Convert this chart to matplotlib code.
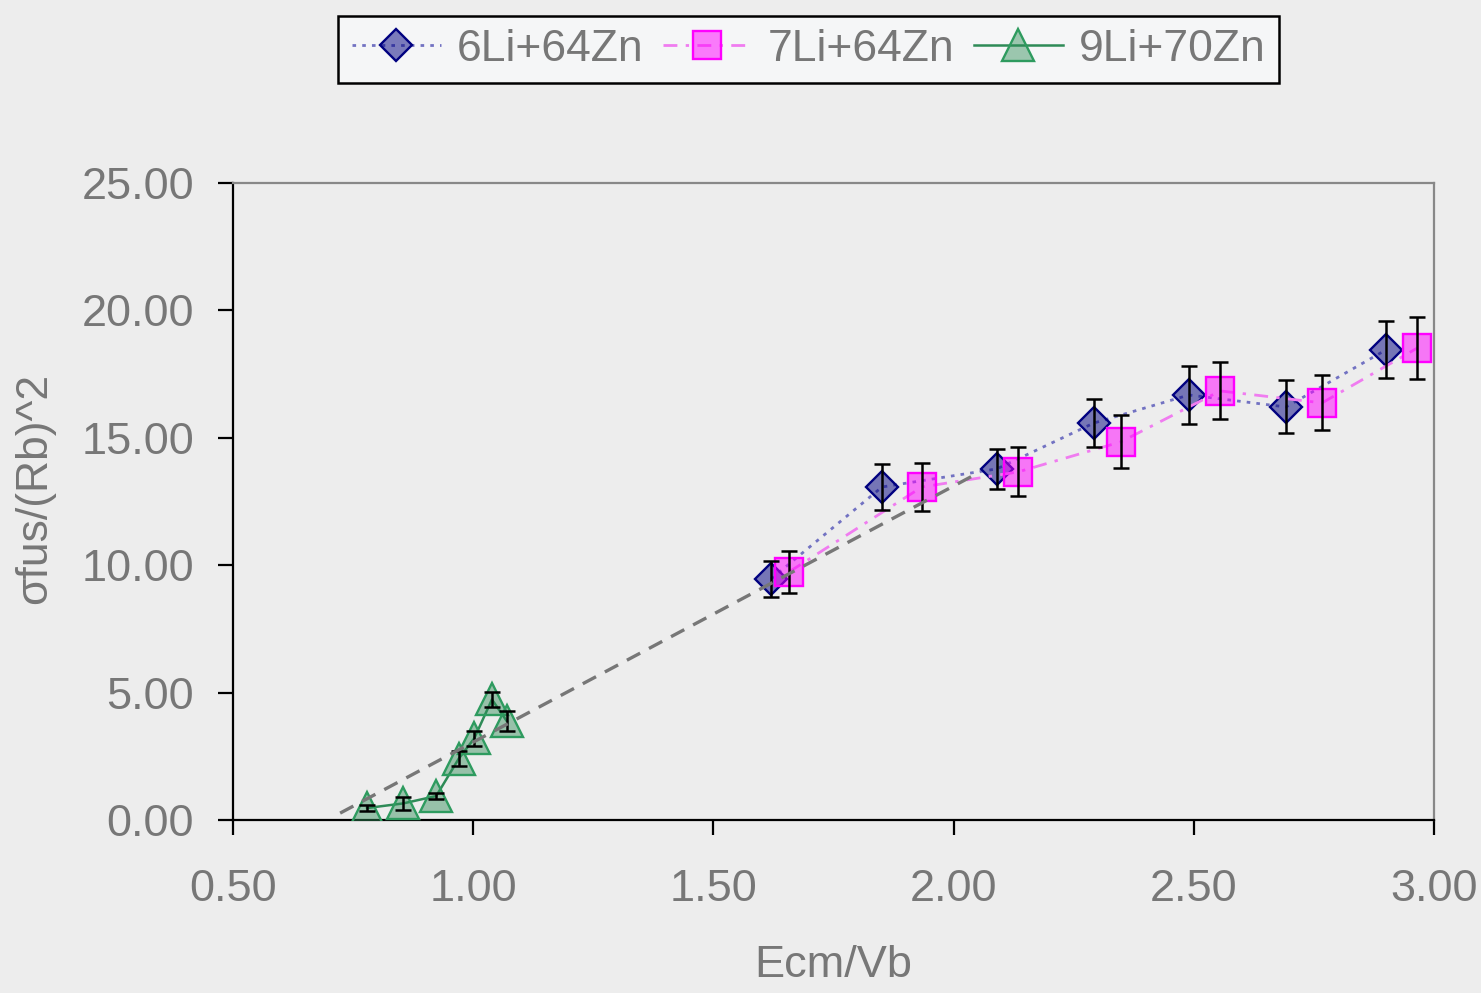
import matplotlib
matplotlib.use("Agg")
import matplotlib.pyplot as plt
from matplotlib.ticker import FormatStrFormatter

plt.rcParams['font.family'] = ['Liberation Sans', 'DejaVu Sans']

# --- data ---
li6_x = [1.62, 1.851, 2.09, 2.292, 2.49, 2.692, 2.90]
li6_y = [9.46, 13.07, 13.78, 15.58, 16.68, 16.21, 18.45]
li6_err = [0.70, 0.92, 0.80, 0.95, 1.12, 1.04, 1.12]

li7_x = [1.657, 1.934, 2.134, 2.348, 2.555, 2.767, 2.965]
li7_y = [9.73, 13.07, 13.66, 14.84, 16.84, 16.37, 18.52]
li7_err = [0.82, 0.96, 0.96, 1.04, 1.12, 1.08, 1.22]

li9_x = [0.779, 0.854, 0.923, 0.970, 1.002, 1.039, 1.070]
li9_y = [0.47, 0.65, 0.94, 2.41, 3.20, 4.73, 3.88]
li9_err = [0.10, 0.25, 0.12, 0.30, 0.30, 0.30, 0.38]

trend_x = [0.723, 2.055]
trend_y = [0.27, 13.66]

labels = ['6Li+64Zn', '7Li+64Zn', '9Li+70Zn']
xticks = [0.5, 1.0, 1.5, 2.0, 2.5, 3.0]
yticks = [0, 5, 10, 15, 20, 25]

bg = '#ededed'
txt = '#777777'

fig = plt.figure(figsize=(14.81, 9.93), dpi=100, facecolor=bg)
ax = fig.add_axes([233/1481, 1-820/993, (1434-233)/1481, (820-183)/993])
ax.set_facecolor(bg)

l1, = ax.plot(li6_x, li6_y, linestyle=(0, (1.3, 2.2)), color='#7272c2', lw=2,
              marker='D', markersize=16, markerfacecolor=(0, 0, 0.5, 0.5),
              markeredgecolor='#000080', markeredgewidth=1.7, zorder=3)
l2, = ax.plot(li7_x, li7_y, linestyle=(0, (5, 3, 1.2, 3)), color='#f07cf0', lw=2,
              marker='s', markersize=20.5, markerfacecolor=(1, 0, 1, 0.5),
              markeredgecolor='#ff00ff', markeredgewidth=1.7, zorder=3)
l3, = ax.plot(li9_x, li9_y, linestyle='-', color='#2e8b57', lw=1.8,
              marker='^', markersize=23, markerfacecolor=(0.18, 0.55, 0.34, 0.45),
              markeredgecolor='#2e9b5f', markeredgewidth=1.7, zorder=3)

for xs, ys, es in [(li6_x, li6_y, li6_err), (li7_x, li7_y, li7_err), (li9_x, li9_y, li9_err)]:
    ax.errorbar(xs, ys, yerr=es, fmt='none', ecolor='black', elinewidth=1.8,
                capsize=5.5, capthick=1.8, zorder=4)

ax.plot(trend_x, trend_y, linestyle=(0, (4.5, 3)), color='#777777', lw=2.4, zorder=5)

ax.set_xlim(0.5, 3.0)
ax.set_ylim(0, 25)
ax.set_xticks(xticks)
ax.set_yticks(yticks)
ax.xaxis.set_major_formatter(FormatStrFormatter('%.2f'))
ax.yaxis.set_major_formatter(FormatStrFormatter('%.2f'))
ax.tick_params(axis='both', direction='out', length=11, width=1.6, color='black',
               labelsize=32.5, labelcolor=txt)
ax.tick_params(axis='y', pad=17)
ax.tick_params(axis='x', pad=24)

for side in ['left', 'bottom']:
    ax.spines[side].set_color('black')
    ax.spines[side].set_linewidth(1.6)
for side in ['top', 'right']:
    ax.spines[side].set_color('#888888')
    ax.spines[side].set_linewidth(1.6)

ax.set_xlabel('Ecm/Vb', fontsize=32.5, color=txt)
ax.xaxis.set_label_coords(0.5, -0.197)
ax.xaxis.label.set_va('top')
ax.set_ylabel('σfus/(Rb)^2', fontsize=32, color=txt)
ax.yaxis.set_label_coords(-0.148, 0.52)

leg = fig.legend([l1, l2, l3], labels, loc='center', bbox_to_anchor=(808.5/1481, 1-49.5/993),
                 ncol=3, fontsize=32, frameon=True, fancybox=False, numpoints=1,
                 handlelength=2.0, handletextpad=0.35, columnspacing=0.45,
                 borderpad=0.3, borderaxespad=0)
leg.get_frame().set_edgecolor('black')
leg.get_frame().set_linewidth(1.8)
leg.get_frame().set_facecolor('#f5f6f7')
leg.get_frame().set_alpha(1)
for t in leg.get_texts():
    t.set_color(txt)

fig.savefig('out.png', dpi=100, facecolor=bg)
